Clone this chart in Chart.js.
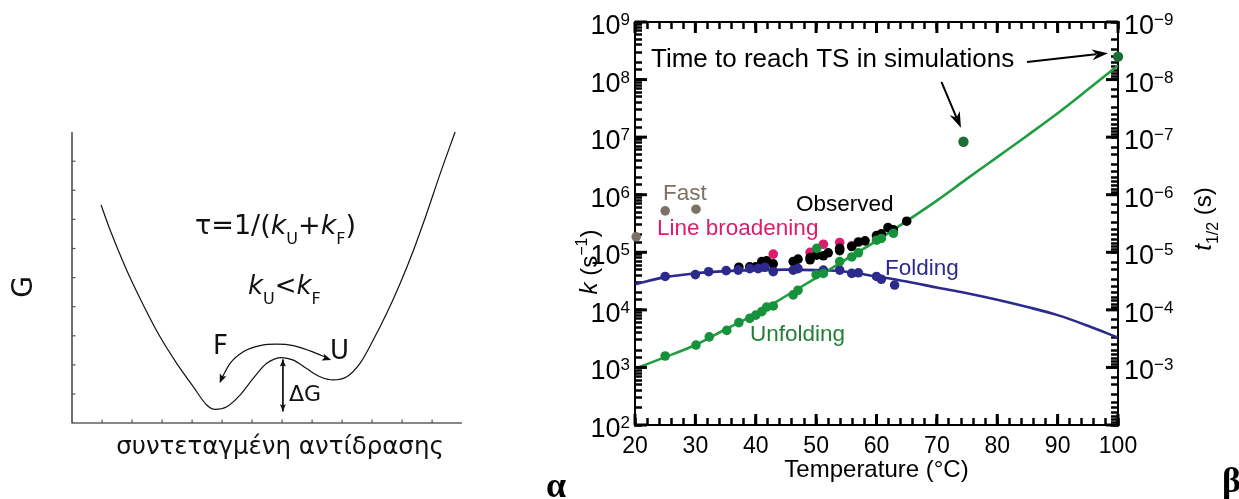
<!DOCTYPE html>
<html><head><meta charset="utf-8">
<script src="https://cdn.jsdelivr.net/npm/chart.js@4.4.1/dist/chart.umd.min.js"></script>
<style>
html,body{margin:0;padding:0;background:#fff;width:1239px;height:499px;overflow:hidden}
canvas{position:absolute;left:0;top:0}
</style></head><body>
<canvas id="left" width="1239" height="499"></canvas>
<canvas id="right" width="1239" height="499"></canvas>
<script>
// ---------- Panel β data (temperature in °C, rates k in s^-1) ----------
const curveT       = [20, 25, 30, 35, 40, 45, 50, 55, 60, 65, 70, 75, 80, 85, 90, 95, 100];
const foldingFit   = [2.8e4, 3.7e4, 4.3e4, 4.7e4, 4.9e4, 5.0e4, 4.9e4, 4.6e4, 3.8e4, 3.1e4, 2.45e4, 1.95e4, 1.5e4, 1.12e4, 8.1e3, 5.3e3, 3.3e3];
const unfoldingFit = [9.5e2, 1.51e3, 2.45e3, 4.6e3, 8.5e3, 1.74e4, 3.6e4, 7.6e4, 1.58e5, 3.5e5, 7.9e5, 1.9e6, 4.5e6, 1.07e7, 2.6e7, 6.7e7, 1.75e8];

const foldT = [25.0, 30.0, 32.2, 35.1, 37.1, 39.0, 40.4, 41.5, 42.9, 46.2, 47.0, 51.2, 53.9, 55.9, 57.0, 60.0, 60.8, 63.0];
const foldK = [3.8e4, 4.1e4, 4.6e4, 4.8e4, 4.9e4, 5.2e4, 5.2e4, 5.5e4, 4.6e4, 4.9e4, 5.2e4, 4.9e4, 4.9e4, 4.3e4, 4.4e4, 3.8e4, 3.4e4, 2.7e4];

const unfoldT = [25.0, 30.1, 32.3, 35.2, 37.2, 39.0, 40.0, 41.0, 41.8, 42.9, 46.2, 47.0, 50.0, 50.1, 51.2, 53.9, 55.9, 57.0, 60.0, 60.8, 62.8];
const unfoldK = [1.58e3, 2.45e3, 3.4e3, 4.4e3, 6.0e3, 7.1e3, 8.1e3, 9.3e3, 1.12e4, 1.17e4, 1.82e4, 2.19e4, 4.1e4, 1.17e5, 4.3e4, 6.9e4, 8.3e4, 9.8e4, 1.62e5, 1.74e5, 2.14e5];

const obsT = [37.2, 39.0, 40.0, 41.0, 41.8, 42.9, 46.2, 47.0, 49.0, 49.0, 50.1, 51.2, 52.0, 53.9, 53.9, 55.9, 57.0, 58.1, 60.0, 60.8, 61.9, 62.8, 65.0];
const obsK = [5.5e4, 5.6e4, 5.6e4, 6.9e4, 7.1e4, 6.3e4, 6.9e4, 7.6e4, 8.1e4, 7.4e4, 8.9e4, 8.7e4, 9.8e4, 1.17e5, 1.07e5, 1.26e5, 1.51e5, 1.58e5, 1.95e5, 2.09e5, 2.69e5, 2.45e5, 3.47e5];

const broadT = [42.9, 49.0, 51.2, 53.9, 55.9];
const broadK = [9.3e4, 1.0e5, 1.38e5, 1.48e5, 1.29e5];

const fastT = [20.2, 25.0, 30.1];
const fastK = [1.86e5, 5.25e5, 5.6e5];

const simT = [74.4, 100];
const simK = [8.3e6, 2.5e8];

const xMajorTicks = [20, 30, 40, 50, 60, 70, 80, 90, 100];
const kExponents = [2, 3, 4, 5, 6, 7, 8, 9];          // left axis labels 10^n
const tExponents = [-9, -8, -7, -6, -5, -4, -3];      // right axis labels 10^n

// ---------- Panel α data (schematic free-energy profile, arbitrary units) ----------
const rcX = [0.97, 1.27, 1.82, 2.38, 2.93, 3.49, 4.04, 4.49, 4.77, 5.16, 5.60, 6.04, 6.49, 6.99, 7.38, 7.82, 8.27, 8.71, 9.16, 9.60, 10.04, 10.49, 10.93, 11.38, 11.82, 12.27, 12.77];
const gY  = [7.49, 6.63, 5.26, 4.05, 2.97, 2.05, 1.25, 0.62, 0.47, 0.56, 0.96, 1.53, 2.05, 2.25, 2.16, 1.87, 1.59, 1.48, 1.59, 2.05, 2.85, 3.77, 4.78, 5.93, 7.19, 8.56, 10.0];
const arcX = [4.99, 5.27, 5.71, 6.27, 6.82, 7.38, 7.93, 8.54];
const arcY = [1.54, 2.05, 2.45, 2.66, 2.71, 2.66, 2.48, 2.22];
const dGX = [7.03, 7.03];
const dGY = [2.18, 0.40];

// ---------- helpers ----------
const SANS = '"Liberation Sans", Arial, sans-serif';
const DV = '"DejaVu Sans", sans-serif';
const GREEN = '#1e9e3f', GREEN_DOT = '#17923c', SIM = '#1b6e36', NAVY = '#2c2a8c', PINK = '#dc1c6d', GRAY = '#7b7265';
const toXY = (xs, ys) => xs.map((x, i) => ({x, y: ys[i]}));

function drawRuns(ctx, x, y, parts, align) {
  let w = 0;
  parts.forEach(p => { ctx.font = p[1]; w += ctx.measureText(p[0]).width; });
  let cx = align === 'right' ? x - w : align === 'center' ? x - w / 2 : x;
  parts.forEach(p => {
    ctx.font = p[1];
    ctx.fillText(p[0], cx, y + (p[2] || 0));
    cx += ctx.measureText(p[0]).width;
  });
}
function arrowHead(ctx, tx, ty, fx, fy, len, half, notch) {
  const a = Math.atan2(ty - fy, tx - fx), c = Math.cos(a), s = Math.sin(a);
  ctx.beginPath();
  ctx.moveTo(tx, ty);
  ctx.lineTo(tx - len * c + half * s, ty - len * s - half * c);
  ctx.lineTo(tx - len * notch * c, ty - len * notch * s);
  ctx.lineTo(tx - len * c - half * s, ty - len * s + half * c);
  ctx.closePath();
  ctx.fill();
}

// ---------- Panel α ----------
const leftDecor = {
  id: 'leftDecor',
  beforeDatasetsDraw(chart) {
    const {ctx, chartArea: a, scales: {x, y}} = chart;
    ctx.save();
    ctx.strokeStyle = '#111';
    ctx.lineWidth = 1.2;
    ctx.beginPath();
    ctx.moveTo(a.left, a.top); ctx.lineTo(a.left, a.bottom); ctx.lineTo(a.right, a.bottom);
    ctx.stroke();
    ctx.fillStyle = '#555';
    for (let v = 1; v < 10; v++) { const p = y.getPixelForValue(v); ctx.fillRect(a.left, p - 0.5, 3.5, 1.2); }
    for (let v = 1; v < 13; v++) { const p = x.getPixelForValue(v); ctx.fillRect(p - 0.5, a.bottom - 3.5, 1.2, 3.5); }
    ctx.restore();
  },
  afterDraw(chart) {
    const {ctx, scales: {x, y}} = chart;
    ctx.save();
    ctx.fillStyle = '#111';
    ctx.textBaseline = 'alphabetic';
    ctx.textAlign = 'left';
    const n = arcX.length;
    const p0 = [x.getPixelForValue(arcX[0]), y.getPixelForValue(arcY[0])];
    const p1 = [x.getPixelForValue(arcX[1]), y.getPixelForValue(arcY[1])];
    const q0 = [x.getPixelForValue(arcX[n - 1]), y.getPixelForValue(arcY[n - 1])];
    const q1 = [x.getPixelForValue(arcX[n - 2]), y.getPixelForValue(arcY[n - 2])];
    arrowHead(ctx, p0[0] - 2, p0[1] + 5, p1[0], p1[1] - 6, 9, 3.5, 0.8);
    arrowHead(ctx, q0[0] + 3, q0[1] + 1.5, q1[0], q1[1] + 2, 9, 3.5, 0.8);
    const gx = x.getPixelForValue(dGX[0]);
    const g0 = y.getPixelForValue(dGY[0]), g1 = y.getPixelForValue(dGY[1]);
    arrowHead(ctx, gx, g0, gx, g0 + 10, 7, 3, 0.85);
    arrowHead(ctx, gx, g1, gx, g1 - 10, 7, 3, 0.85);
    const R = '27px ' + DV, I = 'italic 27px ' + DV, S = '16px ' + DV;
    drawRuns(ctx, 195, 234, [['τ=1/(', R], ['k', I], ['U', S, 10], ['+', R], ['k', I], ['F', S, 10], [')', R]]);
    const R2 = '26px ' + DV, I2 = 'italic 26px ' + DV;
    drawRuns(ctx, 248, 294, [['k', I2], ['U', S, 10], ['<', R2], ['k', I2], ['F', S, 10]]);
    ctx.font = '26px ' + DV;
    ctx.fillText('F', 213, 354);
    ctx.fillText('U', 330, 359);
    ctx.font = '22px ' + DV;
    ctx.fillText('ΔG', 289, 401);
    ctx.font = '24.5px ' + DV;
    ctx.textAlign = 'center';
    ctx.fillText('συντεταγμένη αντίδρασης', 280, 454);
    ctx.save();
    ctx.translate(32, 287);
    ctx.rotate(-Math.PI / 2);
    ctx.font = '28px ' + DV;
    ctx.fillText('G', 0, 0);
    ctx.restore();
    ctx.restore();
  }
};

new Chart(document.getElementById('left'), {
  type: 'scatter',
  data: {
    datasets: [
      {data: toXY(rcX, gY), showLine: true, borderColor: '#111', borderWidth: 1.2, pointRadius: 0, cubicInterpolationMode: 'monotone', clip: false},
      {data: toXY(arcX, arcY), showLine: true, borderColor: '#111', borderWidth: 1.2, pointRadius: 0, cubicInterpolationMode: 'monotone', clip: false},
      {data: toXY(dGX, dGY), showLine: true, borderColor: '#111', borderWidth: 1, pointRadius: 0, clip: false}
    ]
  },
  options: {
    responsive: false, animation: false, events: [],
    layout: {padding: {left: 72, top: 132, right: 777, bottom: 76}},
    plugins: {legend: {display: false}, tooltip: {enabled: false}},
    scales: {
      x: {type: 'linear', min: 0, max: 13, display: false},
      y: {type: 'linear', min: 0, max: 10, display: false}
    }
  },
  plugins: [leftDecor]
});

// ---------- Panel β ----------
const rightDecor = {
  id: 'rightDecor',
  afterDraw(chart) {
    const {ctx, chartArea: a, scales} = chart;
    const sx = scales.x, sy = scales.y, sy2 = scales.y2;
    ctx.save();
    // longer major ticks (inward)
    ctx.fillStyle = '#000';
    xMajorTicks.forEach(v => {
      const px = sx.getPixelForValue(v);
      ctx.fillRect(px - 1.5, a.bottom - 11, 3, 11);
      ctx.fillRect(px - 1.5, a.top, 3, 11);
    });
    kExponents.forEach(n => {
      const py = sy.getPixelForValue(Math.pow(10, n));
      ctx.fillRect(a.left, py - 1.5, 12, 3);
    });
    tExponents.concat([-2]).forEach(n => {
      const py = sy2.getPixelForValue(Math.pow(10, n));
      ctx.fillRect(a.right - 12, py - 1.5, 12, 3);
    });

    // tick labels with superscripts
    ctx.textBaseline = 'alphabetic';
    ctx.textAlign = 'left';
    const big = '27px ' + SANS, sup = '17px ' + SANS;
    kExponents.forEach(n => {
      const p = sy.getPixelForValue(Math.pow(10, n));
      drawRuns(ctx, a.left - 5, p + 12, [['10', big], [String(n), sup, -9]], 'right');
    });
    tExponents.forEach(n => {
      const p = sy2.getPixelForValue(Math.pow(10, n));
      drawRuns(ctx, a.right + 6, p + 12, [['10', big], ['\u2212' + String(-n), sup, -9]], 'left');
    });

    // axis titles
    ctx.save();
    ctx.translate(597, 262);
    ctx.rotate(-Math.PI / 2);
    drawRuns(ctx, 0, 0, [['k', 'italic 24px ' + SANS], [' (s', '24px ' + SANS], ['\u22121', '16px ' + SANS, -10], [')', '24px ' + SANS]], 'center');
    ctx.restore();
    ctx.save();
    ctx.translate(1211, 219);
    ctx.rotate(-Math.PI / 2);
    drawRuns(ctx, 0, 0, [['t', 'italic 24px ' + SANS], ['1/2', '16px ' + SANS, 7], [' (s)', '24px ' + SANS]], 'center');
    ctx.restore();

    // annotations
    ctx.font = '26px ' + SANS;
    ctx.fillStyle = '#000';
    ctx.fillText('Time to reach TS in simulations', 651, 67);
    ctx.font = '22.5px ' + SANS;
    ctx.fillStyle = GRAY;   ctx.fillText('Fast', 663, 200);
    ctx.fillStyle = '#000'; ctx.fillText('Observed', 796, 211);
    ctx.fillStyle = PINK;   ctx.fillText('Line broadening', 657, 235);
    ctx.fillStyle = NAVY;   ctx.fillText('Folding', 885, 275);
    ctx.fillStyle = '#237f36'; ctx.fillText('Unfolding', 750, 341);

    // arrows to simulation points
    const s0x = sx.getPixelForValue(simT[0]), s0y = sy.getPixelForValue(simK[0]);
    const s1x = sx.getPixelForValue(simT[1]), s1y = sy.getPixelForValue(simK[1]);
    ctx.strokeStyle = '#000'; ctx.fillStyle = '#000'; ctx.lineWidth = 2;
    ctx.beginPath();
    ctx.moveTo(1027, 62); ctx.lineTo(s1x - 22, s1y - 2.5);
    ctx.moveTo(s0x - 22, s0y - 60); ctx.lineTo(s0x - 6, s0y - 22);
    ctx.stroke();
    arrowHead(ctx, s1x - 10, s1y - 3.5, 1027, 62, 16, 5.5, 0.7);
    arrowHead(ctx, s0x - 2.5, s0y - 14, s0x - 22, s0y - 60, 16, 5.5, 0.7);

    // panel letters
    ctx.font = 'bold 36px "Liberation Serif", serif';
    ctx.fillText('α', 546, 497);
    ctx.fillText('β', 1222, 492);
    ctx.restore();
  }
};

const dot = (xs, ys, color, r, order) => ({data: toXY(xs, ys), showLine: false, pointRadius: r, pointBackgroundColor: color, pointBorderWidth: 0, borderColor: color, order, clip: false});
const tickGrid = len => ({display: true, drawOnChartArea: false, drawTicks: true, tickLength: len, tickWidth: 2.5, tickColor: '#000'});
const frame = {display: true, color: '#000', width: 2};

new Chart(document.getElementById('right'), {
  type: 'scatter',
  data: {
    datasets: [
      {label: 'Unfolding fit', data: toXY(curveT, unfoldingFit), showLine: true, borderColor: GREEN, borderWidth: 2.6, pointRadius: 0, cubicInterpolationMode: 'monotone', order: 8},
      {label: 'Folding fit', data: toXY(curveT, foldingFit), showLine: true, borderColor: NAVY, borderWidth: 2.6, pointRadius: 0, cubicInterpolationMode: 'monotone', order: 9},
      Object.assign({label: 'Line broadening'}, dot(broadT, broadK, PINK, 4.8, 6)),
      Object.assign({label: 'Observed'}, dot(obsT, obsK, '#000', 4.8, 5)),
      Object.assign({label: 'Folding'}, dot(foldT, foldK, NAVY, 4.8, 3)),
      Object.assign({label: 'Unfolding'}, dot(unfoldT, unfoldK, GREEN_DOT, 4.8, 2)),
      Object.assign({label: 'Fast'}, dot(fastT, fastK, GRAY, 4.8, 7)),
      Object.assign({label: 'Simulation'}, dot(simT, simK, SIM, 5.2, 1))
    ]
  },
  options: {
    responsive: false, animation: false, events: [],
    layout: {padding: {left: 560, top: 22, right: 0, bottom: 0}},
    plugins: {legend: {display: false}, tooltip: {enabled: false}},
    scales: {
      x: {
        type: 'linear', min: 20, max: 100, position: 'bottom',
        afterFit: s => { s.height = 74; },
        grid: tickGrid(-7), border: frame,
        ticks: {stepSize: 2, font: {family: SANS, size: 23}, color: '#000', padding: 15, autoSkip: false, maxRotation: 0,
                callback: v => (Math.round(v) % 10 === 0 ? String(Math.round(v)) : '')},
        title: {display: true, text: 'Temperature (°C)', font: {family: SANS, size: 24}, color: '#000', padding: {top: 0, bottom: 14}}
      },
      xTop: {
        type: 'linear', min: 20, max: 100, position: 'top',
        afterFit: s => { s.height = 0; },
        grid: tickGrid(-7), border: frame,
        ticks: {stepSize: 2, display: false, autoSkip: false}
      },
      y: {
        type: 'logarithmic', min: 1e2, max: 1e9, position: 'left',
        afterFit: s => { s.width = 75; },
        grid: tickGrid(-7), border: frame, ticks: {display: false, autoSkip: false}
      },
      y2: {
        type: 'logarithmic', min: 1e-9, max: 1e-2, reverse: true, position: 'right',
        afterFit: s => { s.width = 121; },
        grid: tickGrid(-7), border: frame, ticks: {display: false, autoSkip: false}
      }
    }
  },
  plugins: [rightDecor]
});
</script>
</body></html>
